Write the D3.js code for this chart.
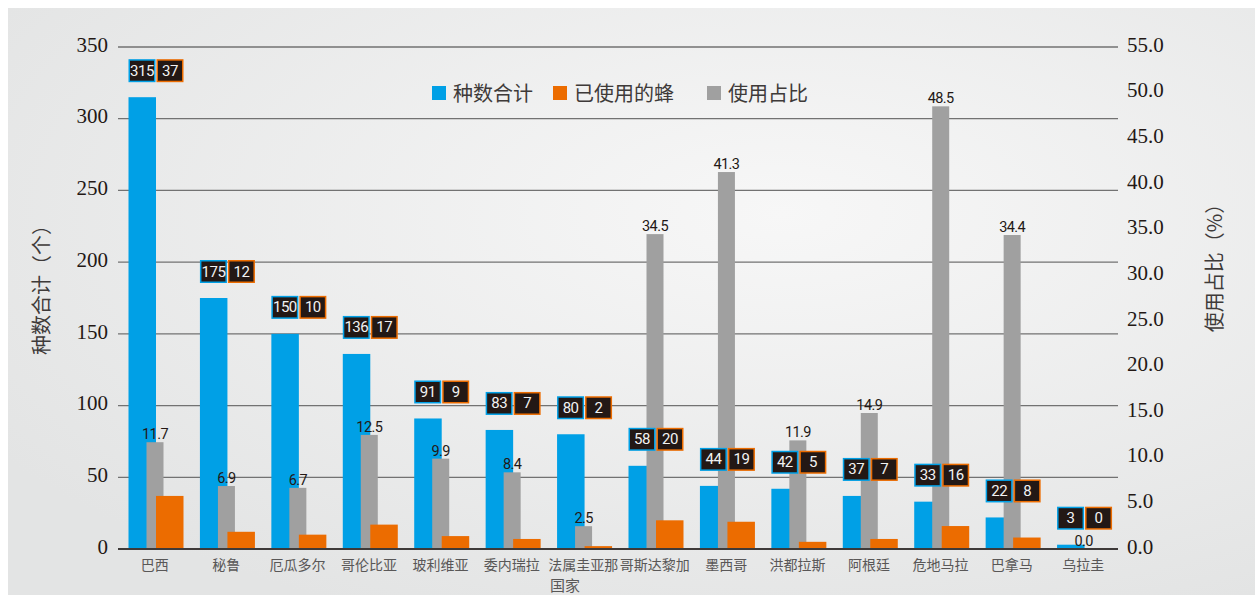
<!DOCTYPE html>
<html>
<head>
<meta charset="utf-8">
<script src="https://cdn.jsdelivr.net/npm/d3@7"></script>
<style>
  html, body { margin: 0; padding: 0; background: #ffffff; }
  svg { display: block; }
</style>
</head>
<body>
<svg id="chart" width="1255" height="595"></svg>
<script>
// Countries and their bee species counts
const countries = ["巴西", "秘鲁", "厄瓜多尔", "哥伦比亚", "玻利维亚", "委内瑞拉", "法属圭亚那",
  "哥斯达黎加", "墨西哥", "洪都拉斯", "阿根廷", "危地马拉", "巴拿马", "乌拉圭"];
const totalSpecies = [315, 175, 150, 136, 91, 83, 80, 58, 44, 42, 37, 33, 22, 3];
const usedSpecies = [37, 12, 10, 17, 9, 7, 2, 20, 19, 5, 7, 16, 8, 0];
const usedShare = [11.7, 6.9, 6.7, 12.5, 9.9, 8.4, 2.5, 34.5, 41.3, 11.9, 14.9, 48.5, 34.4, 0.0];

const leftTicks = [0, 50, 100, 150, 200, 250, 300, 350];
const rightTicks = [0, 5, 10, 15, 20, 25, 30, 35, 40, 45, 50, 55];
const legendNames = ["种数合计", "已使用的蜂", "使用占比"];

const BLUE = "#00a0e6", ORANGE = "#ec6c00", GREY = "#a0a0a0";
const CJK = "'Noto Sans CJK SC', 'Noto Sans', sans-serif";
const SERIF = "'Liberation Serif', 'DejaVu Serif', serif";
const NUM = "Roboto, 'Liberation Sans Narrow', sans-serif";

const svg = d3.select("#chart");

// panel background
const defs = svg.append("defs");
const grad = defs.append("radialGradient").attr("id", "bg")
  .attr("cx", "62%").attr("cy", "35%").attr("r", "75%");
grad.append("stop").attr("offset", "0%").attr("stop-color", "#f7f7f7");
grad.append("stop").attr("offset", "100%").attr("stop-color", "#e3e4e4");
svg.append("rect").attr("x", 8).attr("y", 8).attr("width", 1247).attr("height", 587)
  .attr("fill", "url(#bg)");

const x = d3.scaleBand().domain(countries).range([118, 1118]).padding(0);
const yL = d3.scaleLinear().domain([0, 350]).range([549, 47]);
const yR = d3.scaleLinear().domain([0, 55]).range([549, 47]);
const bw = x.bandwidth();

// gridlines
svg.append("g").selectAll("line").data(leftTicks.filter(d => d > 0)).join("line")
  .attr("x1", 118).attr("x2", 1118)
  .attr("y1", d => yL(d)).attr("y2", d => yL(d))
  .attr("stroke", "#727272").attr("stroke-width", 1.3);

// left axis
const leftAxis = d3.axisLeft(yL).tickValues(leftTicks).tickSize(0).tickPadding(10);
const gL = svg.append("g").attr("transform", "translate(118,0)").call(leftAxis);
gL.select(".domain").remove();
gL.selectAll("text").attr("font-family", SERIF).attr("font-size", 21).attr("fill", "#231815")
  .attr("dy", "0.2em");

// right axis
const rightAxis = d3.axisRight(yR).tickValues(rightTicks).tickSize(0).tickPadding(9)
  .tickFormat(d3.format(".1f"));
const gR = svg.append("g").attr("transform", "translate(1118,0)").call(rightAxis);
gR.select(".domain").remove();
gR.selectAll("text").attr("font-family", SERIF).attr("font-size", 21).attr("fill", "#231815")
  .attr("dy", "0.2em");

// bars: species total, share, used
const idx = d3.range(countries.length);
svg.append("g").selectAll("rect").data(idx).join("rect")
  .attr("x", i => x(countries[i]) + 10.5).attr("width", 27.5)
  .attr("y", i => yL(totalSpecies[i])).attr("height", i => yL(0) - yL(totalSpecies[i]))
  .attr("fill", BLUE);

svg.append("g").selectAll("rect").data(idx).join("rect")
  .attr("x", i => x(countries[i]) + 28.5).attr("width", 17)
  .attr("y", i => yR(usedShare[i])).attr("height", i => yR(0) - yR(usedShare[i]))
  .attr("fill", GREY);

svg.append("g").selectAll("rect").data(idx).join("rect")
  .attr("x", i => x(countries[i]) + 38).attr("width", 27.5)
  .attr("y", i => yL(usedSpecies[i])).attr("height", i => yL(0) - yL(usedSpecies[i]))
  .attr("fill", ORANGE);

// baseline
svg.append("line").attr("x1", 118).attr("x2", 1118).attr("y1", yL(0)).attr("y2", yL(0))
  .attr("stroke", "#3e3a39").attr("stroke-width", 2);

// share value labels
svg.append("g").selectAll("text").data(idx).join("text")
  .attr("x", i => x(countries[i]) + 37)
  .attr("y", i => yR(usedShare[i]) - 3)
  .attr("text-anchor", "middle")
  .attr("font-family", NUM).attr("font-size", 14.5).attr("letter-spacing", -0.6)
  .attr("fill", "#231815")
  .text(i => d3.format(".1f")(usedShare[i]));

// count boxes above each pair
const boxes = svg.append("g").selectAll("g").data(idx).join("g")
  .attr("transform", i => `translate(${x(countries[i]) + 10.5},${yL(totalSpecies[i]) - 38})`);
[[0, BLUE, totalSpecies], [28, ORANGE, usedSpecies]].forEach(([dx, col, arr]) => {
  boxes.append("rect").attr("x", dx + 0.75).attr("y", 0.75).attr("width", 25.5).attr("height", 21.5)
    .attr("fill", "#231815").attr("stroke", col).attr("stroke-width", 1.5);
  boxes.append("text").attr("x", dx + 13.5).attr("y", 16.5).attr("text-anchor", "middle")
    .attr("font-family", NUM).attr("font-size", 15).attr("letter-spacing", -0.5)
    .attr("fill", "#f2f2f2").text(i => arr[i]);
});

// category labels
svg.append("g").selectAll("text").data(countries).join("text")
  .attr("x", d => x(d) + bw / 2 + 1).attr("y", 570)
  .attr("text-anchor", "middle").attr("font-family", CJK).attr("font-size", 14)
  .attr("fill", "#595757").text(d => d);

svg.append("text").attr("x", 565).attr("y", 591).attr("text-anchor", "middle")
  .attr("font-family", CJK).attr("font-size", 15).attr("fill", "#595757").text("国家");

// axis titles
svg.append("text").attr("transform", "translate(49,285) rotate(-90)").attr("text-anchor", "middle")
  .attr("font-family", CJK).attr("font-size", 20).attr("fill", "#3e3a39").text("种数合计（个）");
svg.append("text").attr("transform", "translate(1222,263) rotate(-90)").attr("text-anchor", "middle")
  .attr("font-family", CJK).attr("font-size", 20).attr("fill", "#3e3a39").text("使用占比（%）");

// legend
const legendX = [432, 553, 707];
const legendCol = [BLUE, ORANGE, GREY];
const lg = svg.append("g").selectAll("g").data(legendNames).join("g")
  .attr("transform", (d, i) => `translate(${legendX[i]},86)`);
lg.append("rect").attr("width", 14).attr("height", 14).attr("fill", (d, i) => legendCol[i]);
lg.append("text").attr("x", 21).attr("y", 14.5).attr("font-family", CJK).attr("font-size", 20)
  .attr("fill", "#3e3a39").text(d => d);
</script>
</body>
</html>
